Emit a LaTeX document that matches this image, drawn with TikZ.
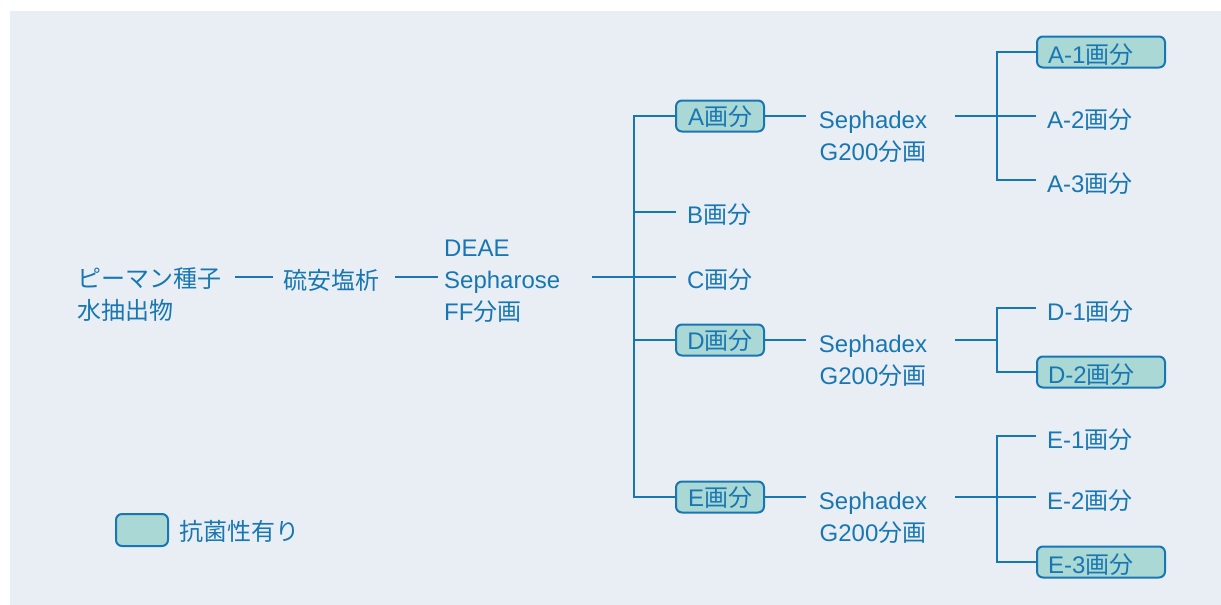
\documentclass[tikz,border=0pt]{standalone}
\usepackage{fontspec}
\setmainfont{Liberation Sans}
\newfontfamily\cjk{Noto Sans CJK JP}
\newcommand\J[1]{{\cjk #1}}
\usetikzlibrary{calc}
\definecolor{ln}{HTML}{1877B2}
\definecolor{fl}{HTML}{AAD8D5}
\definecolor{bg}{HTML}{E9EEF5}
\begin{document}
\begin{tikzpicture}[x=1pt,y=-1pt,
  every node/.style={font=\fontsize{24}{32}\selectfont, text=ln, inner sep=0pt},
  conn/.style={draw=ln, line width=2pt},
  tag/.style={draw=ln, fill=fl, line width=2pt, rounded corners=6pt, minimum height=31pt, text height=18pt, text depth=0pt},
  rtag/.style={tag, anchor=west, inner xsep=11pt, text height=22pt},
  lab/.style={anchor=west, inner xsep=11pt, text height=23pt, text depth=0pt},
  rlab/.style={anchor=west, inner xsep=11pt, text height=24pt, text depth=0pt}]
\useasboundingbox (0,0) rectangle (1221,605);
\fill[bg] (10,11) rectangle (1221,605);

% left part
\node[anchor=base west] (src) at (77,287) {\begin{tabular}[t]{@{}l@{}}\J{ピーマン種子}\\\J{水抽出物}\end{tabular}};
\node[anchor=base] (ams) at (331,289) {\J{硫安塩析}};
\node[anchor=base west] (deae) at (444,256) {\begin{tabular}[t]{@{}l@{}}DEAE\\Sepharose\\FF\J{分画}\end{tabular}};
\coordinate (tr) at (634,277);
\draw[conn] ($(src.east |- tr)+(14,0)$) -- ($(ams.west |- tr)+(-10,0)$);
\draw[conn] ($(ams.east |- tr)+(16,0)$) -- ($(deae.west |- tr)+(-6,0)$);

% fractions
\node[tag, minimum width=88pt] (A) at (720,116) {A\J{画分}};
\node[lab] (B) at (676,212) {B\J{画分}};
\node[lab] (C) at (676,277) {C\J{画分}};
\node[tag, minimum width=88pt] (D) at (720,340) {D\J{画分}};
\node[tag, minimum width=88pt] (E) at (720,497) {E\J{画分}};
\draw[conn] ($(deae.east |- tr)+(32,0)$) -- (C.west);
\draw[conn] (A.west) -| (tr) |- (E.west);
\draw[conn] (B.west) -- (B.west -| tr);
\draw[conn] (D.west) -- (D.west -| tr);

% Sephadex
\node[anchor=base] (sA) at (873,128) {\begin{tabular}[t]{@{}c@{}}Sephadex\\G200\J{分画}\end{tabular}};
\node[anchor=base] (sD) at (873,352) {\begin{tabular}[t]{@{}c@{}}Sephadex\\G200\J{分画}\end{tabular}};
\node[anchor=base] (sE) at (873,509) {\begin{tabular}[t]{@{}c@{}}Sephadex\\G200\J{分画}\end{tabular}};
\draw[conn] (A.east) -- ($(sA.west |- A.east)+(-13,0)$);
\draw[conn] (D.east) -- ($(sD.west |- D.east)+(-13,0)$);
\draw[conn] (E.east) -- ($(sE.west |- E.east)+(-13,0)$);
\coordinate (fA) at (997,116);
\coordinate (fD) at (997,340);
\coordinate (fE) at (997,497);
\draw[conn] ($(sA.east |- A.east)+(28,0)$) -- (fA);
\draw[conn] ($(sD.east |- D.east)+(28,0)$) -- (fD);
\draw[conn] ($(sE.east |- E.east)+(28,0)$) -- (fE);

% sub-fractions
\node[rtag] (A1) at (1036,52) {\makebox[106pt][l]{A-1\J{画分}}};
\node[rlab] (A2) at (1036,116) {A-2\J{画分}};
\node[rlab] (A3) at (1036,180) {A-3\J{画分}};
\draw[conn] (A1.west) -| (fA) |- (A3.west);
\draw[conn] (fA) -- (A2.west);

\node[rlab] (D1) at (1036,308) {D-1\J{画分}};
\node[rtag] (D2) at (1036,372) {\makebox[106pt][l]{D-2\J{画分}}};
\draw[conn] (D1.west) -| (fD) |- (D2.west);

\node[rlab] (E1) at (1036,436) {E-1\J{画分}};
\node[rlab] (E2) at (1036,497) {E-2\J{画分}};
\node[rtag] (E3) at (1036,562) {\makebox[106pt][l]{E-3\J{画分}}};
\draw[conn] (E1.west) -| (fE) |- (E3.west);
\draw[conn] (fE) -- (E2.west);

% legend
\node[tag, minimum width=52pt, minimum height=32pt] (leg) at (142,530) {};
\node[anchor=west, inner xsep=10pt, text height=20pt, text depth=0pt] (legt) at (leg.east) {\J{抗菌性有り}};
\end{tikzpicture}
\end{document}
